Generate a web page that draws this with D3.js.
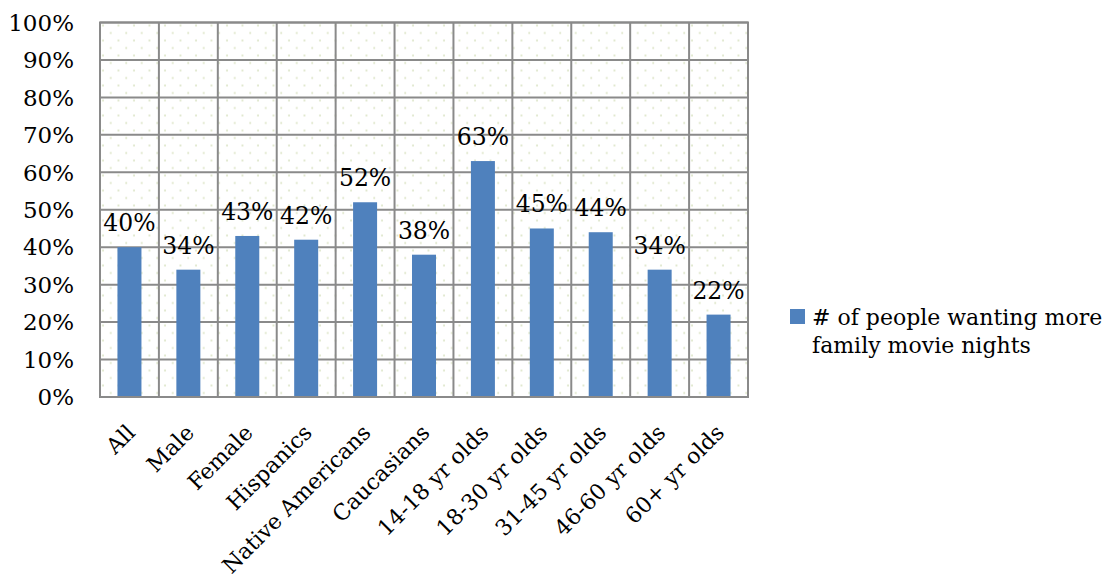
<!DOCTYPE html>
<html>
<head>
<meta charset="utf-8">
<script src="https://cdn.jsdelivr.net/npm/d3@7"></script>
<style>
  html, body { margin: 0; padding: 0; background: #fff; }
  svg text { font-family: "DejaVu Serif", serif; fill: #000; }
</style>
</head>
<body>
<svg id="chart" width="1109" height="581"></svg>
<script>
// Survey results: share of each group wanting more family movie nights
const categories = ["All", "Male", "Female", "Hispanics", "Native Americans", "Caucasians",
  "14-18 yr olds", "18-30 yr olds", "31-45 yr olds", "46-60 yr olds", "60+ yr olds"];
const values = [40, 34, 43, 42, 52, 38, 63, 45, 44, 34, 22];
const yTicks = [0, 10, 20, 30, 40, 50, 60, 70, 80, 90, 100];
const seriesName = ["# of people wanting more", "family movie nights"];

const svg = d3.select("#chart");
const plot = { left: 100, right: 748, top: 22.5, bottom: 397 };
const barColor = "#4f81bd";
const gridColor = "#8a8a8a";

const x = d3.scaleBand().domain(categories).range([plot.left, plot.right]).paddingInner(0).paddingOuter(0);
const y = d3.scaleLinear().domain([0, 100]).range([plot.bottom, plot.top]);

// dotted fill for the plot area
const defs = svg.append("defs");
const pat = defs.append("pattern")
  .attr("id", "dots").attr("patternUnits", "userSpaceOnUse")
  .attr("x", plot.left).attr("y", plot.top)
  .attr("width", 15.5).attr("height", 15);
pat.append("circle").attr("cx", 3).attr("cy", 3).attr("r", 1).attr("fill", "#d9e2c2");
pat.append("circle").attr("cx", 10.75).attr("cy", 10.5).attr("r", 1).attr("fill", "#d9e2c2");

svg.append("rect")
  .attr("x", plot.left).attr("y", plot.top)
  .attr("width", plot.right - plot.left).attr("height", plot.bottom - plot.top)
  .attr("fill", "url(#dots)");

// horizontal gridlines
svg.append("g").selectAll("line").data(yTicks).join("line")
  .attr("x1", plot.left).attr("x2", plot.right)
  .attr("y1", d => y(d)).attr("y2", d => y(d))
  .attr("stroke", gridColor).attr("stroke-width", 2);

// vertical gridlines at category boundaries
const bounds = categories.map(c => x(c)).concat([plot.right]);
svg.append("g").selectAll("line").data(bounds).join("line")
  .attr("x1", d => d).attr("x2", d => d)
  .attr("y1", plot.top).attr("y2", plot.bottom)
  .attr("stroke", gridColor).attr("stroke-width", 2);

// bars
const barW = 24;
svg.append("g").selectAll("rect").data(values).join("rect")
  .attr("x", (d, i) => x(categories[i]) + x.bandwidth() / 2 - barW / 2)
  .attr("y", d => y(d))
  .attr("width", barW)
  .attr("height", d => y(0) - y(d))
  .attr("fill", barColor);

// plot border
svg.append("rect")
  .attr("x", plot.left).attr("y", plot.top)
  .attr("width", plot.right - plot.left).attr("height", plot.bottom - plot.top)
  .attr("fill", "none").attr("stroke", gridColor).attr("stroke-width", 2);

// value labels
svg.append("g").selectAll("text").data(values).join("text")
  .attr("x", (d, i) => x(categories[i]) + x.bandwidth() / 2)
  .attr("y", d => y(d) - 16)
  .attr("text-anchor", "middle")
  .attr("font-size", 23.5)
  .text(d => d + "%");

// y-axis labels
svg.append("g").selectAll("text").data(yTicks).join("text")
  .attr("x", 74)
  .attr("y", d => y(d))
  .attr("dy", "0.36em")
  .attr("text-anchor", "end")
  .attr("font-size", 23)
  .text(d => d + "%");

// rotated category labels
svg.append("g").selectAll("text").data(categories).join("text")
  .attr("text-anchor", "end")
  .attr("font-size", 22)
  .attr("transform", c => `translate(${x(c) + x.bandwidth() / 2 + 7},${plot.bottom + 37}) rotate(-45)`)
  .text(c => c);

// legend
const lg = svg.append("g");
lg.append("rect").attr("x", 790).attr("y", 309).attr("width", 15).attr("height", 15).attr("fill", barColor);
lg.selectAll("text").data(seriesName).join("text")
  .attr("x", 812)
  .attr("y", (d, i) => 325 + i * 28)
  .attr("font-size", 22)
  .text(d => d);
</script>
</body>
</html>
